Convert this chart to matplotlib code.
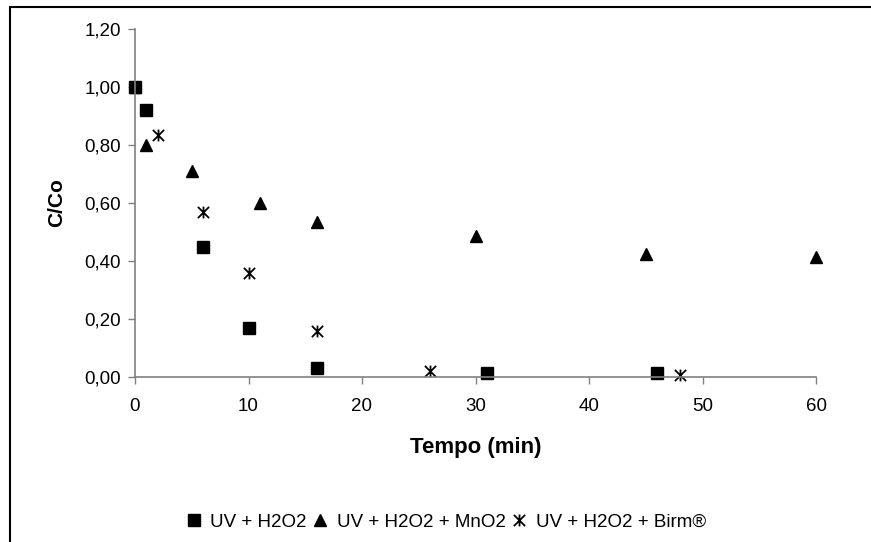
import numpy as np
import matplotlib.pyplot as plt
from matplotlib.patches import Rectangle
from matplotlib.path import Path
from matplotlib.ticker import FuncFormatter

plt.rcParams["font.family"] = ["Liberation Sans", "DejaVu Sans"]

# --- dados ---
t_uv = [0, 1, 6, 10, 16, 31, 46]
c_uv = [1.00, 0.92, 0.45, 0.17, 0.03, 0.015, 0.015]

t_mno2 = [0, 1, 5, 11, 16, 30, 45, 60]
c_mno2 = [1.00, 0.80, 0.71, 0.60, 0.535, 0.485, 0.425, 0.415]

t_birm = [0, 2, 6, 10, 16, 26, 48]
c_birm = [1.00, 0.835, 0.57, 0.36, 0.16, 0.022, 0.006]

labels = ["UV + H2O2", "UV + H2O2 + MnO2", "UV + H2O2 + Birm®"]

# marcador "estrela" do Excel: X + linha vertical
star = Path([(-0.95, -0.95), (0.95, 0.95), (-0.95, 0.95), (0.95, -0.95), (0, -1), (0, 1)],
            [Path.MOVETO, Path.LINETO, Path.MOVETO, Path.LINETO, Path.MOVETO, Path.LINETO])

# --- figura ---
fig = plt.figure(figsize=(8.71, 5.42), dpi=100)
ax = fig.add_axes([135 / 871, 1 - 377 / 542, (816 - 135) / 871, (377 - 29) / 542])

ax.plot(t_uv, c_uv, ls="none", marker="s", ms=8, color="black", label=labels[0], clip_on=False)
ax.plot(t_mno2, c_mno2, ls="none", marker="^", ms=9, color="black", label=labels[1], clip_on=False)
ax.plot(t_birm, c_birm, ls="none", marker=star, ms=8.5, mew=1.3, color="black",
        label=labels[2], clip_on=False)

ax.set_xlim(0, 60)
ax.set_ylim(0, 1.2)
ax.set_xticks(np.arange(0, 61, 10))
ax.set_yticks(np.arange(0, 1.21, 0.2))
ax.yaxis.set_major_formatter(FuncFormatter(lambda v, p: f"{v:.2f}".replace(".", ",")))

for s in ["top", "right"]:
    ax.spines[s].set_visible(False)
for s in ["left", "bottom"]:
    ax.spines[s].set_color("#808080")
    ax.spines[s].set_linewidth(1.2)
ax.tick_params(axis="both", direction="out", length=5, width=1, color="#808080",
               labelsize=13.5)
ax.tick_params(axis="x", pad=10)
ax.tick_params(axis="y", pad=5)

ax.set_xlabel("Tempo (min)", fontsize=16, fontweight="bold", labelpad=16)
ax.set_ylabel("C/Co", fontsize=15, fontweight="bold", labelpad=13)

fig.legend(loc="center", bbox_to_anchor=(446 / 871, 1 - 522 / 542), ncol=3,
           frameon=False, fontsize=13.5, handlelength=0.8, handletextpad=0.5,
           columnspacing=0.3, borderpad=0)

# moldura do gráfico (Excel)
fig.patches.append(Rectangle((10 / 871, -0.5), 2, 1.5 - 7 / 542, fill=False,
                             edgecolor="black", linewidth=1.5,
                             transform=fig.transFigure, figure=fig))

fig.savefig("out.png", dpi=100)
